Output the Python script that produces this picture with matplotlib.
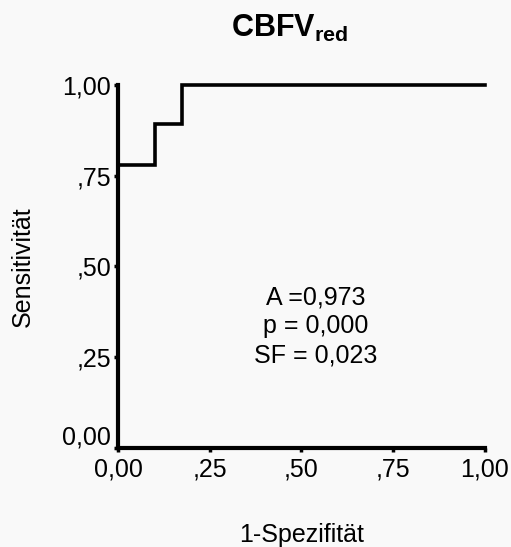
import matplotlib.pyplot as plt
from matplotlib.transforms import ScaledTranslation

# ROC curve steps
fpr = [0.0, 0.10, 0.10, 0.175, 0.175, 1.0]
tpr = [0.78, 0.78, 0.893, 0.893, 1.0, 1.0]

tick_values = [0.0, 0.25, 0.5, 0.75, 1.0]
tick_labels = ["0,00", ",25", ",50", ",75", "1,00"]

stats_lines = ["A =0,973", "p = 0,000", "SF = 0,023"]

plt.rcParams['font.family'] = ['Liberation Sans', 'DejaVu Sans']
plt.rcParams['mathtext.fontset'] = 'custom'
plt.rcParams['mathtext.rm'] = 'Liberation Sans'
plt.rcParams['mathtext.bf'] = 'Liberation Sans:bold'

fig = plt.figure(figsize=(5.11, 5.47), dpi=100, facecolor='#f9f9f9')
ax = fig.add_axes([0.231, 0.181, 0.718, 0.664])
ax.set_facecolor('#f9f9f9')

ax.plot(fpr, tpr, color='black', lw=2.6, solid_joinstyle='miter', clip_on=False)

ax.set_xlim(0, 1)
ax.set_ylim(0, 1)
ax.set_xticks(tick_values)
ax.set_xticklabels(tick_labels)
ax.set_yticks(tick_values)
ax.set_yticklabels(tick_labels)
ax.tick_params(labelsize=18, length=3, width=2.5, color='black')
ax.tick_params(axis='x', pad=4)
ax.tick_params(axis='y', pad=2)

# SPSS lifts the bottom y label above the corner
lbl = ax.get_yticklabels()[0]
lbl.set_transform(lbl.get_transform() + ScaledTranslation(0, 13 / 100, fig.dpi_scale_trans))

for side in ['top', 'right']:
    ax.spines[side].set_visible(False)
for side in ['left', 'bottom']:
    ax.spines[side].set_linewidth(3)

ax.set_xlabel("1-Spezifität", fontsize=18, labelpad=30)
ax.set_ylabel("Sensitivität", fontsize=18, labelpad=20)

ax.text(0.54, 0.335, "\n".join(stats_lines), fontsize=18, ha='center', va='center',
        linespacing=1.25, transform=ax.transData)

fig.text(0.566, 1 - 37 / 547, r"$\mathbf{CBFV_{red}}$", fontsize=22, ha='center', va='baseline')
fig.savefig("out.png", dpi=100, facecolor=fig.get_facecolor())
